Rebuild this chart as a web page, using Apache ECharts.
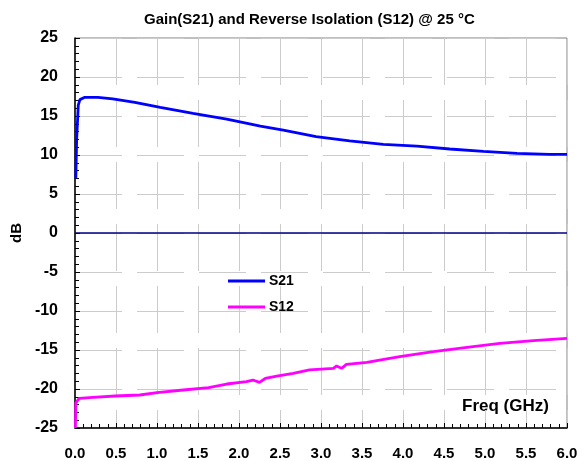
<!DOCTYPE html>
<html><head><meta charset="utf-8">
<script src="https://cdn.jsdelivr.net/npm/echarts@6/dist/echarts.min.js"></script>
<style>html,body{margin:0;padding:0;background:#fff}#c{width:582px;height:461px}</style>
</head><body><div id="c"></div>
<script>
const titleText = 'Gain(S21) and Reverse Isolation (S12) @ 25 °C';
const xTicks = ['0.0','0.5','1.0','1.5','2.0','2.5','3.0','3.5','4.0','4.5','5.0','5.5','6.0'];
const s21Freq = [0.01,0.02,0.04,0.06,0.08,0.12,0.2,0.28,0.46,0.73,1.04,1.44,1.85,2.13,2.26,2.54,2.94,3.35,3.76,4.17,4.57,4.98,5.39,5.79,6.0];
const s21Val  = [7.0,12.0,16.4,17.1,17.25,17.4,17.4,17.4,17.2,16.75,16.1,15.35,14.6,14.0,13.7,13.2,12.35,11.8,11.37,11.15,10.77,10.47,10.2,10.08,10.08];
const s12Freq = [0.005,0.01,0.05,0.22,0.49,0.79,1.0,1.32,1.63,1.85,2.09,2.17,2.25,2.32,2.46,2.66,2.86,3.15,3.19,3.25,3.31,3.56,3.58,3.68,3.96,4.37,4.78,5.18,5.59,6.0];
const s12Val  = [-25,-21.8,-21.2,-21.07,-20.9,-20.77,-20.47,-20.13,-19.83,-19.36,-19.06,-18.85,-19.15,-18.65,-18.35,-18.0,-17.56,-17.35,-17.05,-17.35,-16.85,-16.6,-16.85,-16.37,-15.86,-15.2,-14.65,-14.14,-13.8,-13.5];

const pair = (xs, ys) => xs.map((x,i)=>[x, ys[i]]);
const font = 'Liberation Sans, Arial, sans-serif';
const chart = echarts.init(document.getElementById('c'));
const gridLine = {show:true, lineStyle:{color:'#cccccc', width:1, type:[47,15]}};
chart.setOption({
  animation:false,
  title:{text:titleText, left:139, top:7, textStyle:{fontFamily:font, fontWeight:'bold', fontSize:15, color:'#000'}},
  grid:{left:75, right:15, top:38, bottom:33, show:true, borderColor:'#808080', borderWidth:1},
  legend:{orient:'vertical', left:223, top:269, itemWidth:37, itemHeight:3, itemGap:12,
    data:[{name:'S21', icon:'rect'},{name:'S12', icon:'rect'}],
    textStyle:{fontFamily:font, fontWeight:'bold', fontSize:14, color:'#000', padding:[0,0,0,-1]}},
  xAxis:{type:'value', min:0, max:6, interval:0.5,
    axisLine:{show:true, onZero:false, lineStyle:{color:'#000', width:1.5}},
    axisTick:{show:true, inside:true, length:5, lineStyle:{color:'#000'}},
    minorTick:{show:true, splitNumber:5, length:4, lineStyle:{color:'#000'}},
    axisLabel:{margin:18, formatter:(v)=>xTicks[Math.round(v*2)], fontFamily:font, fontWeight:'bold', fontSize:15, color:'#000'},
    splitLine:gridLine},
  yAxis:{type:'value', min:-25, max:25, interval:5, name:'dB', nameLocation:'middle', nameGap:51, nameRotate:90,
    nameTextStyle:{fontFamily:font, fontWeight:'bold', fontSize:15, color:'#000'},
    axisLine:{show:true, onZero:false, lineStyle:{color:'#000', width:1.5}},
    axisTick:{show:true, inside:true, length:5, lineStyle:{color:'#000'}},
    minorTick:{show:true, splitNumber:5, length:4, lineStyle:{color:'#000'}},
    axisLabel:{margin:17, fontFamily:font, fontWeight:'bold', fontSize:16, color:'#000'},
    splitLine:gridLine},
  graphic:[{type:'text', left:462, top:398, style:{text:'Freq (GHz)', fontFamily:font, fontWeight:'bold', fontSize:17, fill:'#000'}}],
  series:[
    {name:'S21', type:'line', data:pair(s21Freq,s21Val), symbol:'none', lineStyle:{color:'#0000ff', width:2.8}, itemStyle:{color:'#0000ff'},
     markLine:{silent:true, symbol:'none', label:{show:false}, lineStyle:{color:'#000080', width:1.5, type:'solid'}, data:[{yAxis:0}]}},
    {name:'S12', type:'line', data:pair(s12Freq,s12Val), symbol:'none', lineStyle:{color:'#ff00ff', width:2.8}, itemStyle:{color:'#ff00ff'}}
  ]
});
</script></body></html>
